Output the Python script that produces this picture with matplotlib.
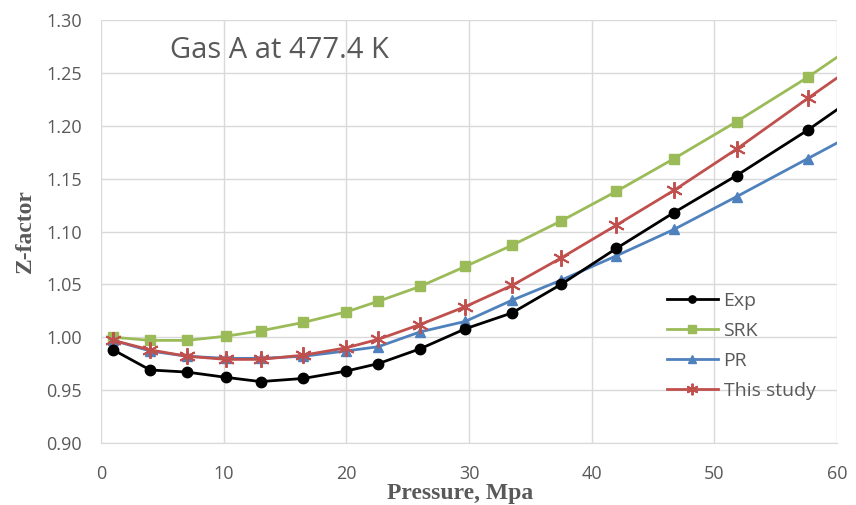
import matplotlib
matplotlib.use("Agg")
import matplotlib.pyplot as plt

# pressure (MPa); the last value sits just past the axis edge so the lines run to 60
pressure = [1.0, 4.0, 7.0, 10.2, 13.0, 16.5, 20.0, 22.6, 26.0, 29.7, 33.5, 37.5, 42.0, 46.7, 51.8, 57.6, 63.4]

z_exp = [0.988, 0.969, 0.967, 0.962, 0.958, 0.961, 0.968, 0.975, 0.989, 1.008, 1.023, 1.050, 1.084, 1.118, 1.153, 1.196, 1.243]
z_srk = [1.000, 0.997, 0.997, 1.001, 1.006, 1.014, 1.024, 1.034, 1.048, 1.067, 1.087, 1.110, 1.138, 1.169, 1.204, 1.246, 1.292]
z_pr = [0.997, 0.987, 0.982, 0.980, 0.980, 0.982, 0.987, 0.991, 1.005, 1.015, 1.035, 1.054, 1.077, 1.102, 1.133, 1.169, 1.205]
z_this = [0.997, 0.988, 0.982, 0.979, 0.979, 0.983, 0.990, 0.998, 1.012, 1.029, 1.049, 1.075, 1.106, 1.139, 1.178, 1.226, 1.273]

x_ticks = [0, 10, 20, 30, 40, 50, 60]
y_ticks = [0.90, 0.95, 1.00, 1.05, 1.10, 1.15, 1.20, 1.25, 1.30]

fig = plt.figure(figsize=(8.56, 5.05), dpi=100)
ax = fig.add_axes([0.118, 0.123, 0.860, 0.837])

grid_color = "#d9d9d9"
text_gray = "#595959"

ax.plot(pressure, z_exp, color="black", lw=2, marker="o", ms=7.5, label="Exp", zorder=5)
ax.plot(pressure, z_srk, color="#9bbb59", lw=2, marker="s", ms=7.5, label="SRK", zorder=3)
ax.plot(pressure, z_pr, color="#4f81bd", lw=2, marker="^", ms=7.5, label="PR", zorder=3)
ax.plot(pressure, z_this, color="#c0504d", lw=2, marker=(6, 2, 0), ms=12, mew=1.4,
        label="This study", zorder=4)

ax.set_xlim(0, 60)
ax.set_ylim(0.90, 1.30)
ax.set_xticks(x_ticks)
ax.set_yticks(y_ticks)
ax.set_yticklabels([f"{v:.2f}" for v in y_ticks])

ax.grid(True, color=grid_color, lw=1)
ax.set_axisbelow(True)
for side in ["top", "right", "left"]:
    ax.spines[side].set_visible(False)
ax.spines["bottom"].set_color(grid_color)
ax.tick_params(length=0, colors=text_gray, labelsize=13)
ax.tick_params(axis="y", pad=14)
ax.tick_params(axis="x", pad=16)
for lbl in ax.get_xticklabels() + ax.get_yticklabels():
    lbl.set_family("Open Sans")

ax.set_xlabel("Pressure, Mpa", family="Liberation Serif", fontweight="bold",
              fontsize=17, color=text_gray)
ax.set_ylabel("Z-factor", family="Liberation Serif", fontweight="bold",
              fontsize=17, color=text_gray)
ax.xaxis.set_label_coords(0.488, -0.094)
ax.yaxis.set_label_coords(-0.088, 0.5)

ax.text(5.6, 1.264, "Gas A at 477.4 K", family="Open Sans", fontsize=21,
        color=text_gray, va="baseline")

leg = ax.legend(loc="upper left", bbox_to_anchor=(0.769, 0.358), frameon=False,
                borderpad=0, borderaxespad=0, handlelength=2.6, handletextpad=0.3,
                labelspacing=0.62, markerscale=0.7,
                prop={"family": "Open Sans", "size": 14})
for t in leg.get_texts():
    t.set_color(text_gray)

fig.savefig("out.png", dpi=100)
